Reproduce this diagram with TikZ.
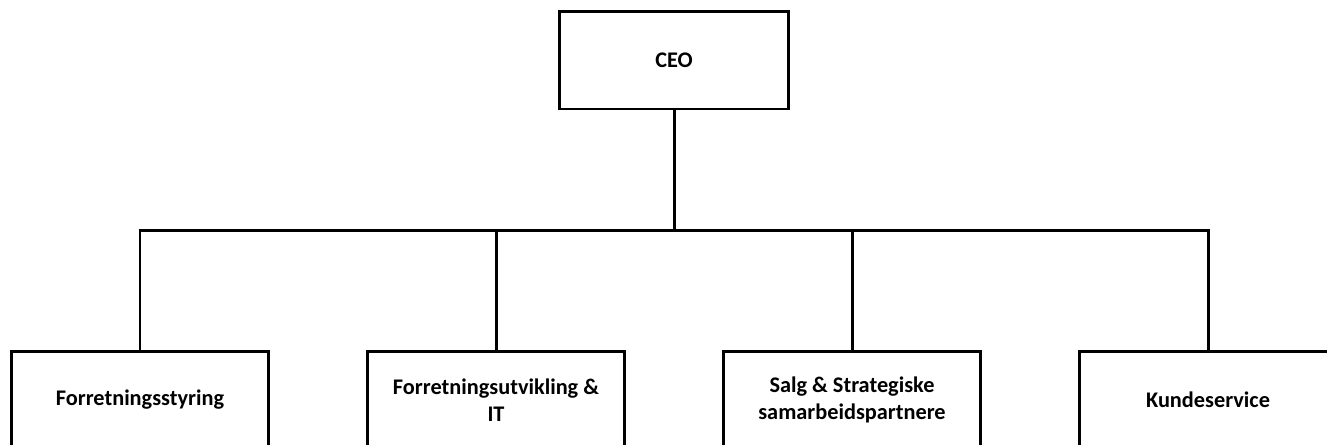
\documentclass[tikz,border=0pt]{standalone}
\usepackage{fontspec}
\setmainfont{Carlito}
\begin{document}
\begin{tikzpicture}[x=0.02cm,y=-0.02cm,
  box/.style={draw,line width=1.7pt,minimum width=5.16cm,minimum height=1.96cm,
    align=center,font=\fontsize{12.7}{15.4}\selectfont\bfseries},
  link/.style={line width=1.7pt}]
\clip (0,0) rectangle (1327,444);

\node [box,minimum width=4.6cm] (ceo) at (674,60) {CEO};

\node [box] (styring) at (140,400) {Forretningsstyring};
\node [box] (utv) at (496,400) {Forretningsutvikling \&\\IT};
\node [box] (salg) at (852,400) {Salg \& Strategiske\\samarbeidspartnere};
\node [box] (kunde) at (1208,400) {Kundeservice};

\coordinate (bus) at (674,230);
\draw [link] (ceo.south) -- (bus);
\draw [link] (styring.north) -- (styring.north |- bus) -- (kunde.north |- bus) -- (kunde.north);
\draw [link] (utv.north) -- (utv.north |- bus);
\draw [link] (salg.north) -- (salg.north |- bus);
\end{tikzpicture}
\end{document}
